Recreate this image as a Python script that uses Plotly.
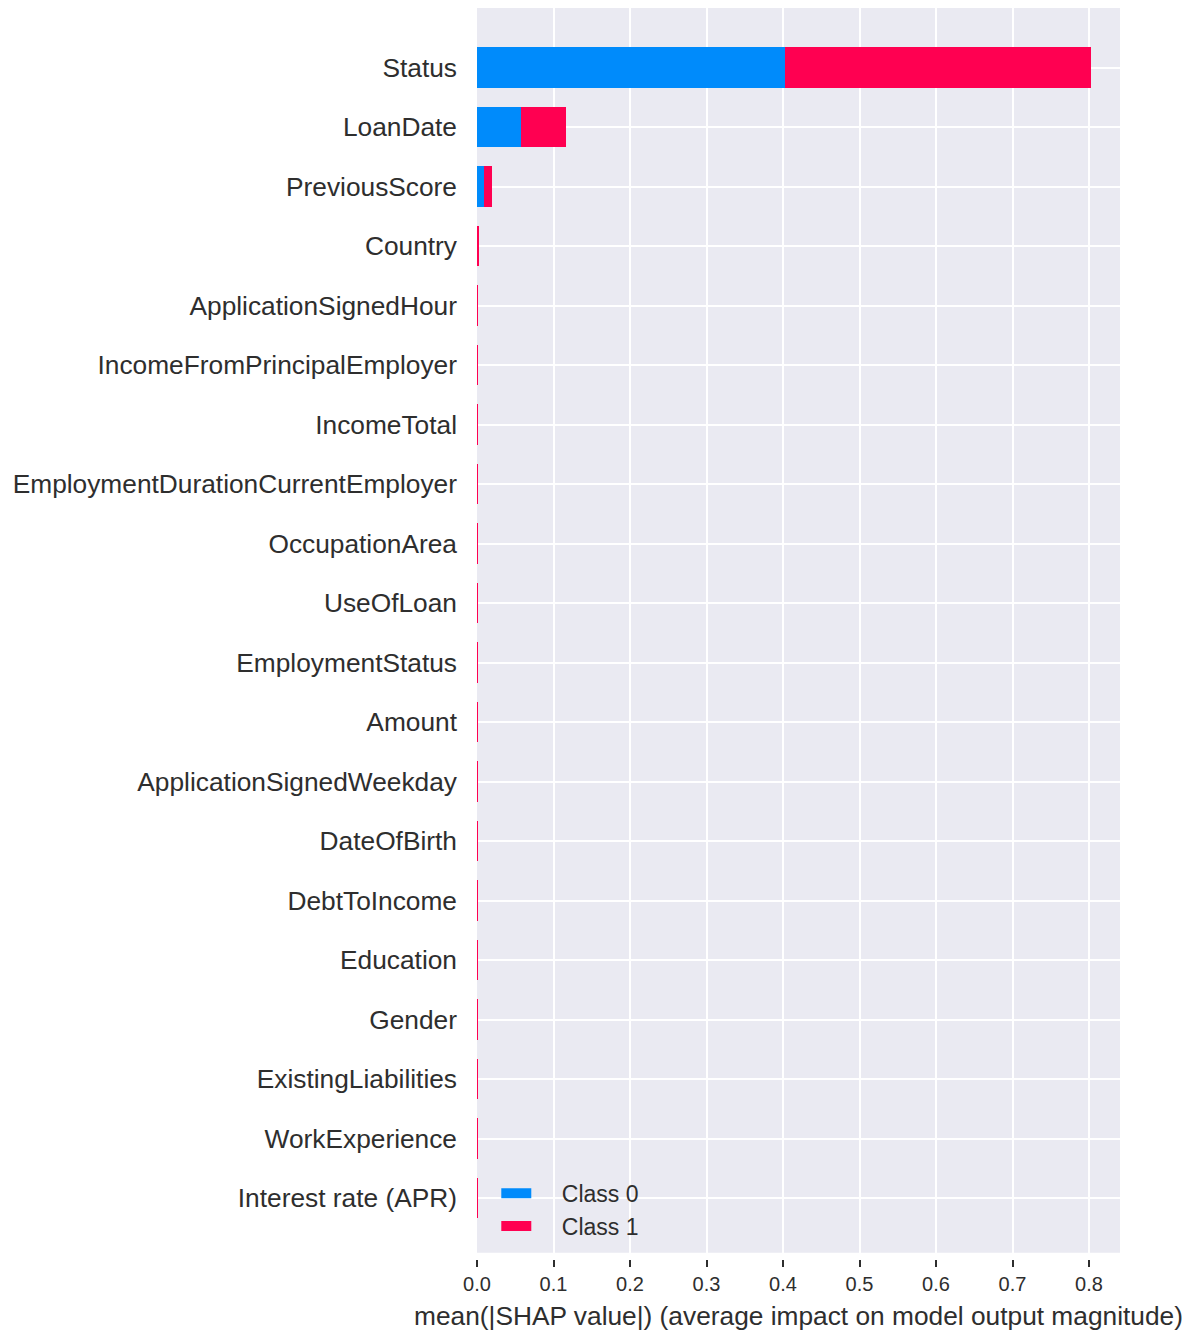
import plotly.graph_objects as go

# Features, most important first
features = [
    "Status", "LoanDate", "PreviousScore", "Country", "ApplicationSignedHour",
    "IncomeFromPrincipalEmployer", "IncomeTotal", "EmploymentDurationCurrentEmployer",
    "OccupationArea", "UseOfLoan", "EmploymentStatus", "Amount",
    "ApplicationSignedWeekday", "DateOfBirth", "DebtToIncome", "Education",
    "Gender", "ExistingLiabilities", "WorkExperience", "Interest rate (APR)",
]
# mean(|SHAP value|) per class
class0 = [0.402, 0.0575, 0.009, 0.0012, 0.0002, 0.0002, 0.0002, 0.0001, 0.0001, 0.0001,
          0.0001, 0.0001, 0.0001, 0.0001, 0.0001, 0.00005, 0.00005, 0.00005, 0.00005, 0.00003]
class1 = [0.400, 0.0588, 0.0105, 0.0012, 0.0002, 0.0002, 0.0002, 0.0001, 0.0001, 0.0001,
          0.0001, 0.0001, 0.0001, 0.0001, 0.0001, 0.00005, 0.00005, 0.00005, 0.00005, 0.00003]
class_names = ["Class 0", "Class 1"]
x_ticks = [0.0, 0.1, 0.2, 0.3, 0.4, 0.5, 0.6, 0.7, 0.8]

BLUE = "#008BFB"
RED = "#FF0051"
TEXT = "#2e2e2e"
FONT = "Arial, Liberation Sans, sans-serif"

fig = go.Figure()
for name, vals, col in [(class_names[0], class0, BLUE), (class_names[1], class1, RED)]:
    fig.add_trace(go.Bar(
        x=vals, y=features, orientation="h", name=name,
        marker=dict(color=col, line=dict(width=0)), showlegend=False,
    ))
    # wide swatch for the legend entry
    fig.add_trace(go.Scatter(
        x=[None], y=[None], mode="lines", name="\u00a0\u00a0\u00a0\u00a0" + name,
        line=dict(color=col, width=15), showlegend=True,
    ))

order_bottom_up = features[::-1]

fig.update_layout(
    width=1198, height=1333,
    margin=dict(l=477, r=78, t=8, b=70),
    paper_bgcolor="white",
    plot_bgcolor="#EAEAF2",
    barmode="stack",
    bargap=0.32,
    font=dict(family=FONT, color=TEXT),
    legend=dict(
        x=0.03, y=0.009, xanchor="left", yanchor="bottom",
        traceorder="normal",
        bgcolor="rgba(0,0,0,0)", font=dict(size=23, color=TEXT),
        tracegroupgap=0,
    ),
    xaxis=dict(
        range=[0, 0.8405], tickvals=x_ticks, tickformat=".1f",
        showgrid=True, gridcolor="white", gridwidth=2, zeroline=False,
        ticks="outside", ticklen=7, tickwidth=2, tickcolor=TEXT,
        tickfont=dict(size=20, color=TEXT),
        anchor="free", position=0, showline=False,
        title=dict(text="mean(|SHAP value|) (average impact on model output magnitude)",
                   font=dict(size=26.3, color=TEXT), standoff=12),
    ),
    yaxis=dict(
        type="category", categoryorder="array", categoryarray=order_bottom_up,
        range=[-0.92, 20.0], domain=[0.005, 1],
        showgrid=True, gridcolor="white", gridwidth=2, zeroline=False,
        ticks="", tickfont=dict(size=26.3, color=TEXT), ticklabelstandoff=19,
        showline=False,
    ),
)

fig.write_html("out.html")
